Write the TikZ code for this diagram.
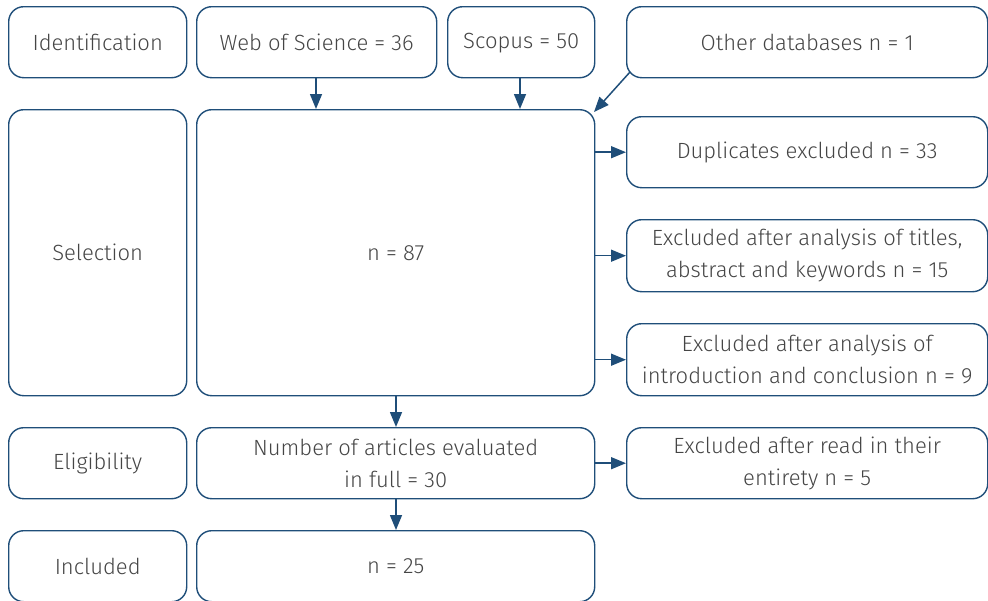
\documentclass[tikz,border=0pt]{standalone}
\usepackage{fontspec}
\setmainfont{Fira Sans}[UprightFont=* Light]
\usetikzlibrary{arrows.meta}
\definecolor{boxc}{HTML}{1F4E79}
\definecolor{txtc}{HTML}{454545}
\tikzset{
  bx/.style={draw=boxc, line width=1.4pt, rounded corners=15pt, text=txtc, align=center, font=\fontsize{22}{32}\selectfont},
  ar/.style={draw=boxc, line width=1.5pt, -{Triangle[length=15pt,width=12pt]}}
}
\newcommand{\bxn}[6]{\node[bx, minimum width=#4pt-#2pt, minimum height=#5pt-#3pt, anchor=north west] (#1) at (#2,#3) {#6};}
\begin{document}
\begin{tikzpicture}[x=1pt,y=-1pt]
\useasboundingbox (0,0) rectangle (988,600);
\bxn{ident}{8}{6}{186}{77}{Identification}
\bxn{wos}{196}{6}{436}{77}{Web of Science = 36}
\bxn{scop}{447}{6}{594}{77}{\strut Scopus = 50}
\bxn{other}{626}{6}{987}{77}{Other databases n = 1}
\bxn{sel}{8}{109}{186}{395}{Selection}
\bxn{n87}{196}{109}{594}{395}{n = 87}
\bxn{dup}{626}{116}{987}{187}{Duplicates excluded n = 33}
\bxn{tit}{626}{219}{987}{291}{Excluded after analysis of titles,\\abstract and keywords n = 15}
\bxn{intro}{626}{323}{987}{395}{Excluded after analysis of\\introduction and conclusion n = 9}
\bxn{elig}{8}{427}{186}{498}{Eligibility}
\bxn{num}{196}{427}{594}{498}{Number of articles evaluated\\in full = 30}
\bxn{read}{626}{427}{987}{498}{Excluded after read in their\\entirety n = 5}
\bxn{incl}{8}{530}{186}{601}{Included}
\bxn{n25}{196}{530}{594}{601}{n = 25}
\coordinate (o1) at (630,72);
\coordinate (o2) at (594,112);
\draw[ar] (wos.south -| 316,0) -- (n87.north -| 316,0);
\draw[ar] (scop.south -| 520,0) -- (n87.north -| 520,0);
\draw[ar] (o1) -- (o2);
\draw[ar] (n87.east |- dup.west) -- (dup.west);
\draw[ar] (n87.east |- tit.west) -- (tit.west);
\draw[ar] (n87.east |- intro.west) -- (intro.west);
\draw[ar] (n87.south -| 396,0) -- (num.north -| 396,0);
\draw[ar] (num.east |- read.west) -- (read.west);
\draw[ar] (num.south -| 396,0) -- (n25.north -| 396,0);
\end{tikzpicture}
\end{document}
